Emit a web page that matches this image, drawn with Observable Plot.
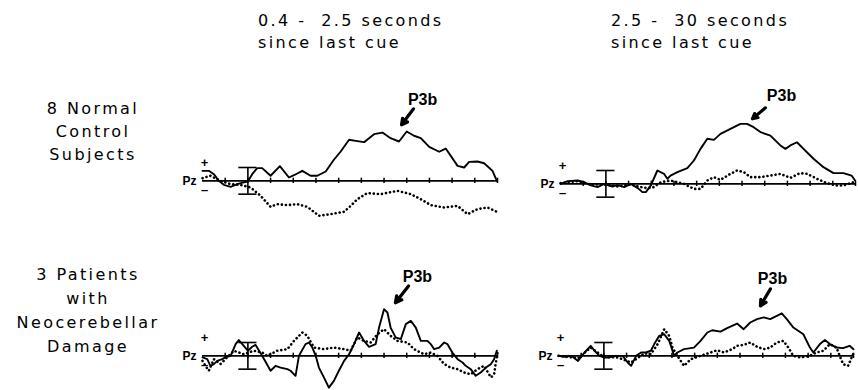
<!DOCTYPE html>
<html>
<head>
<meta charset="utf-8">
<script src="https://cdn.jsdelivr.net/npm/d3@7"></script>
<script src="https://cdn.jsdelivr.net/npm/@observablehq/plot@0.6"></script>
<style>
  html, body { margin: 0; padding: 0; background: #fff; overflow: hidden; }
  #fig { position: relative; width: 858px; height: 390px; background: #fff; color: #000;
         font-family: "DejaVu Sans", sans-serif; }
  .coltitle { position: absolute; font-size: 16px; line-height: 22px; letter-spacing: 2.4px; white-space: pre; }
  .rowlabel { position: absolute; width: 180px; text-align: center; font-size: 16px; letter-spacing: 2.4px; white-space: pre; }
  .panel { position: absolute; }
</style>
</head>
<body>
<div id="fig"></div>
<script>
// ---- Text content ----
const columnTitles = ["0.4 -  2.5 seconds\nsince last cue", "2.5 -  30 seconds\nsince last cue"];
const rowLabels = ["8 Normal\nControl\nSubjects", "3 Patients\nwith\nNeocerebellar\nDamage"];
const electrode = "Pz";
const peakLabel = "P3b";

// ---- Time axis (ms relative to stimulus) ----
const timeDomain = [-200, 1100];
const tickTimes = [-100, 0, 100, 200, 300, 400, 500, 600, 700, 800, 900, 1000, 1100];
const calibration = 5; // half-height of calibration bar (µV)

// ---- Waveforms: [time ms, amplitude µV, positive up] ----
// Normal controls, 0.4–2.5 s since last cue
const normalShortSolid = [[-200,3.75],[-172,3.75],[-150,2.5],[-128,0],[-106,-1.5],[-76,-2.25],[-47,-1.25],[-18,-0.6],[0,-0.25],[19,2.5],[41,4.75],[63,4.75],[100,1.9],[141,5.5],[181,1.25],[203,2.1],[240,3.75],[276,1.9],[306,1.9],[343,3.5],[379,7.9],[409,11],[446,15.4],[475,15],[512,14.5],[556,17.5],[593,18.1],[629,16],[666,14.75],[700,18.5],[732,16.9],[762,16],[799,12.75],[843,10.9],[872,12.1],[924,5.6],[953,5],[975,7.1],[1012,7.25],[1041,6.6],[1078,3.75],[1097,0]];
const normalShortDotted = [[-200,1],[-165,1.9],[-121,0],[-76,-1.25],[-32,-1.5],[12,-2.5],[56,-5.6],[100,-9.75],[129,-8.75],[174,-9.1],[218,-8.75],[262,-9.75],[313,-13.1],[365,-12.5],[424,-11.6],[453,-9.4],[482,-6.9],[526,-4.6],[585,-5],[659,-3.75],[718,-5],[762,-6.9],[806,-9.1],[865,-10],[924,-9.4],[968,-12.5],[1012,-10.6],[1056,-10],[1097,-11.6]];
// Normal controls, 2.5–30 s since last cue
const normalLongSolid = [[-200,0],[-168,1],[-124,1.25],[-95,0.6],[-66,-0.6],[-37,-1.25],[-7,0],[29,-1],[51,-0.5],[81,-1.25],[110,0],[139,-1.5],[161,-3.1],[176,-3.1],[198,-0.6],[227,5],[256,3.75],[271,1.9],[285,3.1],[315,4.4],[359,5.9],[388,8.75],[417,13.1],[447,16.9],[476,16.5],[505,18.75],[549,20.6],[593,22.5],[622,22.5],[651,21.25],[681,19.4],[725,18.1],[769,14.4],[791,13.1],[813,14.4],[842,15.6],[871,13.1],[915,9.4],[959,6.25],[1003,4],[1047,4],[1083,3.1],[1098,1.25]];
const normalLongDotted = [[-200,0.25],[-124,1],[-66,-0.25],[-7,-0.25],[51,-1],[110,-0.25],[168,-1.5],[205,-1.5],[242,0.6],[285,1.25],[344,0],[388,-1.9],[417,-1.9],[447,1.25],[476,2.5],[505,1.5],[549,3.75],[578,5],[608,4.4],[637,2.5],[681,2.5],[725,3.1],[769,3.75],[813,2.25],[856,4],[886,3.75],[930,1.9],[974,0.25],[1018,-0.6],[1047,-0.6],[1091,0.6]];
// Patients, 0.4–2.5 s since last cue
const patientShortSolid = [[-200,-0.6],[-179,-1.25],[-165,-3.75],[-150,-3.1],[-135,-1.9],[-113,-1.25],[-99,-0.6],[-76,0],[-54,4.4],[-40,5.9],[-18,3.75],[0,1.9],[19,3.4],[34,4.1],[63,0],[100,-5.6],[122,-3.75],[144,-4.4],[174,-5],[188,-5.6],[210,-7.5],[225,0],[254,4.4],[269,5],[284,3.1],[299,0],[313,-4.4],[335,-8.1],[357,-11.9],[379,-9.4],[401,-5.6],[424,-1.9],[446,0.6],[468,4.4],[490,8.75],[512,5.6],[534,3.4],[563,4.4],[578,10.6],[600,17.5],[615,16.25],[629,10.6],[651,6.9],[674,6.25],[696,11.9],[718,13.1],[740,10.6],[762,5.6],[791,5.6],[806,4.4],[821,2.5],[843,3.1],[865,5],[879,4.4],[901,1.25],[924,-1.25],[946,-2.5],[960,-3.75],[982,-5],[1004,-7.5],[1026,-6.25],[1049,-4.4],[1071,-3.1],[1085,-1.25],[1097,1.9]];
const patientShortDotted = [[-200,-1.9],[-187,-3.75],[-172,-5.6],[-150,-1.25],[-121,-3.1],[-99,-1.25],[-62,1.9],[-18,0.6],[26,1.9],[63,1.25],[85,0],[129,1.9],[174,2.5],[203,5.6],[240,8.75],[262,7.5],[291,3.1],[335,2.5],[379,3.1],[424,2.5],[453,1.9],[482,6.9],[512,5.6],[541,5],[571,8.1],[600,10],[629,7.5],[659,5.6],[703,5],[732,2.5],[776,0.6],[806,1.25],[835,0],[865,-3.1],[894,-4.4],[924,-5],[953,-6.25],[982,-6.9],[1012,-5],[1041,-3.75],[1071,-8.1],[1085,-6.9],[1100,1.25]];
// Patients, 2.5–30 s since last cue
const patientLongSolid = [[-200,0],[-172,-0.4],[-143,0],[-114,-1.9],[-85,1.25],[-58,3.75],[-41,1.9],[-19,0],[0,-0.6],[25,-0.6],[54,0],[83,0],[105,-2.5],[120,-3.75],[142,0],[164,1.25],[185,1.25],[207,1.9],[222,4.4],[244,7.5],[266,8.1],[288,5.6],[310,0],[324,1.25],[353,2.5],[397,3.1],[426,5.6],[456,8.75],[477,9.6],[514,9.1],[543,10.4],[587,12.1],[616,10],[645,12.5],[675,13.75],[704,14.4],[733,13.75],[762,15],[784,15.9],[806,13.75],[835,10.6],[879,8.1],[908,3.1],[923,1.25],[952,4.4],[974,5.9],[996,4.4],[1025,3.1],[1054,2.9],[1083,3.75],[1100,2.5]];
const patientLongDotted = [[-200,0],[-114,-0.9],[-58,3.1],[0,-0.4],[61,-0.6],[120,-2.5],[178,0.9],[207,0.6],[237,4.4],[266,10],[288,7.5],[302,3.1],[324,0],[353,-3.75],[383,-1.25],[426,0],[470,1.25],[499,2.1],[529,1.25],[565,2.5],[587,3.75],[616,4.1],[645,5],[675,3.4],[704,2.5],[733,3.1],[762,5],[791,5.6],[813,3.1],[835,0],[864,-0.6],[908,0],[937,1.25],[967,1.9],[996,4.4],[1025,3.1],[1054,-3.1],[1076,-3.75],[1098,0.6]];

// P3b annotation per panel: label at (t, v), arrow from (t1, v1) to (t2, v2)
const p3bNormalShort = {t: 770, v: 30.4, t1: 730, v1: 27, t2: 677, v2: 21};
const p3bNormalLong = {t: 774, v: 33, t1: 703, v1: 28.5, t2: 646, v2: 24.4};
const p3bPatientShort = {t: 747, v: 29.6, t1: 708, v1: 26.2, t2: 650, v2: 19.9};
const p3bPatientLong = {t: 743, v: 28.9, t1: 734, v1: 25.1, t2: 690, v2: 18.75};

// ---- Layout ----
const ampDomain = [-13, 35];
const M = {top: 4, bottom: 4, left: 30, right: 3};
const innerW = 295, innerH = 128;
const W = M.left + innerW + M.right, H = M.top + innerH + M.bottom;
const panels = [
  {solid: normalShortSolid, dotted: normalShortDotted, p3b: p3bNormalShort, ax: 202, ay: 180},
  {solid: normalLongSolid, dotted: normalLongDotted, p3b: p3bNormalLong, ax: 560, ay: 183},
  {solid: patientShortSolid, dotted: patientShortDotted, p3b: p3bPatientShort, ax: 202, ay: 355},
  {solid: patientLongSolid, dotted: patientLongDotted, p3b: p3bPatientLong, ax: 558, ay: 355}
];

const fig = document.getElementById("fig");
const toRows = (arr) => arr.map(([t, v]) => ({t, v}));

for (const p of panels) {
  const chart = Plot.plot({
    width: W, height: H,
    marginTop: M.top, marginBottom: M.bottom, marginLeft: M.left, marginRight: M.right,
    x: {domain: timeDomain, axis: null},
    y: {domain: ampDomain, axis: null},
    style: {background: "transparent", overflow: "visible"},
    marks: [
      Plot.ruleY([0], {x1: timeDomain[0], x2: timeDomain[1], stroke: "#000", strokeWidth: 1.7}),
      Plot.ruleX(tickTimes, {y1: -1, y2: 1, stroke: "#000", strokeWidth: 1.5}),
      Plot.ruleX([0], {y1: -calibration, y2: calibration, stroke: "#000", strokeWidth: 1.6}),
      Plot.ruleY([-calibration, calibration], {x1: -40, x2: 40, stroke: "#000", strokeWidth: 1.6}),
      Plot.line(toRows(p.dotted), {x: "t", y: "v", stroke: "#000", strokeWidth: 2.6,
        strokeDasharray: "0.1,4", strokeLinecap: "round"}),
      Plot.line(toRows(p.solid), {x: "t", y: "v", stroke: "#000", strokeWidth: 1.9, strokeLinejoin: "round"}),
      Plot.text([electrode], {x: timeDomain[0], y: 0, dx: -6, textAnchor: "end",
        fontSize: 12, fontWeight: "bold", fontFamily: "Liberation Sans, sans-serif"}),
      Plot.text(["+"], {x: timeDomain[0], y: 0, dx: 2, dy: -18, fontSize: 13, fontWeight: "bold",
        fontFamily: "Liberation Sans, sans-serif"}),
      Plot.text(["\u2013"], {x: timeDomain[0], y: 0, dx: 2, dy: 9, fontSize: 13, fontWeight: "bold",
        fontFamily: "Liberation Sans, sans-serif"}),
      Plot.text([p.p3b], {x: "t", y: "v", text: () => peakLabel, fontSize: 16, fontWeight: "bold",
        fontFamily: "Liberation Sans, sans-serif", letterSpacing: "0.5px"}),
      Plot.arrow([p.p3b], {x1: "t1", y1: "v1", x2: "t2", y2: "v2", stroke: "#000",
        strokeWidth: 3.2, headLength: 7, headAngle: 55})
    ]
  });
  chart.classList.add("panel");
  chart.style.left = (p.ax - M.left) + "px";
  chart.style.top = (p.ay - (M.top + innerH * ampDomain[1] / (ampDomain[1] - ampDomain[0]))) + "px";
  fig.appendChild(chart);
}

// column titles
const titlePos = [{left: 258, top: 10}, {left: 611, top: 10}];
columnTitles.forEach((t, i) => {
  const d = document.createElement("div");
  d.className = "coltitle";
  d.textContent = t;
  d.style.left = titlePos[i].left + "px";
  d.style.top = titlePos[i].top + "px";
  fig.appendChild(d);
});
// row labels
const rowPos = [{cx: 93, top: 97, lh: 23}, {cx: 88, top: 263, lh: 24}];
rowLabels.forEach((t, i) => {
  const d = document.createElement("div");
  d.className = "rowlabel";
  d.textContent = t;
  d.style.left = (rowPos[i].cx - 90) + "px";
  d.style.top = rowPos[i].top + "px";
  d.style.lineHeight = rowPos[i].lh + "px";
  fig.appendChild(d);
});
</script>
</body>
</html>
